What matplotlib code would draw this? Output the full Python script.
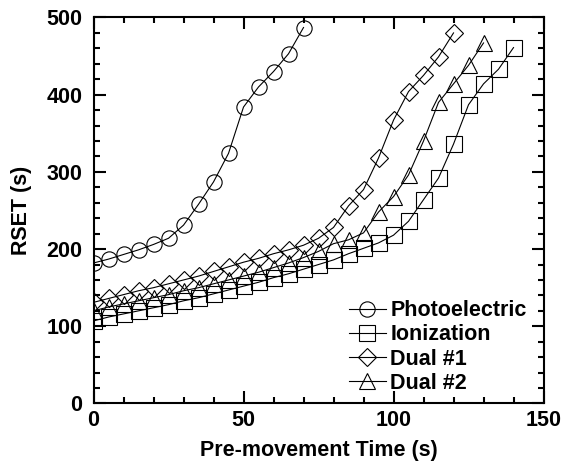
import numpy as np
import matplotlib.pyplot as plt
from matplotlib.ticker import MultipleLocator

plt.rcParams['font.family'] = ['Liberation Sans', 'DejaVu Sans']
plt.rcParams['font.weight'] = 'bold'

# pre-movement time (s) and RSET (s) for each detector
x_photo = np.arange(0, 71, 5)
photo = [182, 187, 193, 199, 206, 214, 231, 258, 287, 324, 384, 410, 430, 453, 487]

x_ion = np.arange(0, 141, 5)
ion = [107, 112, 116, 120, 124, 128, 133, 137, 142, 147, 152, 157, 163, 168, 174,
       180, 186, 194, 201, 208, 218, 236, 264, 292, 336, 387, 414, 433, 461]

x_dual1 = np.arange(0, 121, 5)
dual1 = [131, 136, 141, 146, 150, 155, 160, 165, 171, 177, 183, 188, 194, 199, 205,
         214, 228, 256, 277, 318, 367, 404, 425, 449, 480]

x_dual2 = np.arange(0, 131, 5)
dual2 = [120, 125, 129, 133, 137, 141, 146, 150, 155, 160, 165, 170, 176, 182, 189,
         197, 207, 212, 221, 248, 268, 296, 340, 390, 414, 438, 467]

fs = 15.5

fig = plt.figure(figsize=(5.62, 4.65), dpi=100)
ax = fig.add_axes([0.1664, 0.1323, 0.8007, 0.8301])

style = dict(color='black', linewidth=0.8, markersize=11, markerfacecolor='none',
             markeredgecolor='black', markeredgewidth=0.8)
ax.plot(x_photo, photo, marker='o', label='Photoelectric', **style)
ax.plot(x_ion, ion, marker='s', label='Ionization', **style)
ax.plot(x_dual1, dual1, marker='D', label='Dual #1', **dict(style, markersize=9))
ax.plot(x_dual2, dual2, marker='^', label='Dual #2', **style)

ax.set_xlim(0, 150)
ax.set_ylim(0, 500)
ax.xaxis.set_major_locator(MultipleLocator(50))
ax.xaxis.set_minor_locator(MultipleLocator(10))
ax.yaxis.set_major_locator(MultipleLocator(100))
ax.yaxis.set_minor_locator(MultipleLocator(20))
ax.tick_params(which='both', direction='in', top=True, right=True, width=1.5,
               labelsize=fs)
ax.tick_params(which='major', length=8.5)
ax.tick_params(axis='x', pad=5)
ax.tick_params(axis='y', pad=8)
ax.tick_params(which='minor', length=4.5)
for s in ax.spines.values():
    s.set_linewidth(1.5)

ax.set_xlabel('Pre-movement Time (s)', fontsize=fs, fontweight='bold', labelpad=6)
ax.set_ylabel('RSET (s)', fontsize=fs, fontweight='bold', labelpad=10.5)

ax.legend(loc='lower right', bbox_to_anchor=(0.963, 0.025), frameon=False,
          handlelength=1.75, handletextpad=0.2, labelspacing=0.15,
          borderaxespad=0, borderpad=0, prop={'weight': 'bold', 'size': fs})

fig.savefig('out.png', dpi=100)
